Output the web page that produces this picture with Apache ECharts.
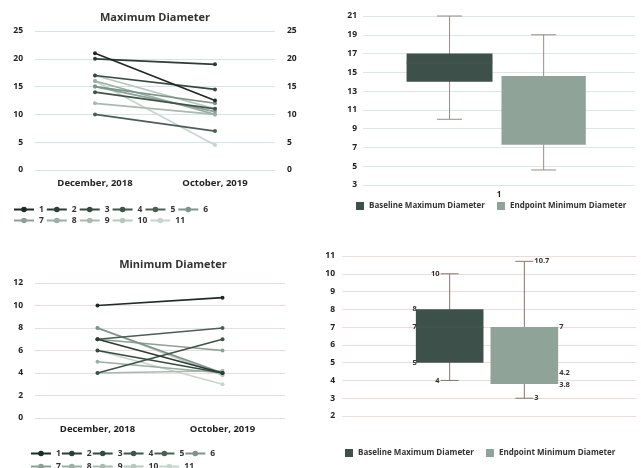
<!DOCTYPE html>
<html>
<head>
<meta charset="utf-8">
<script src="https://cdn.jsdelivr.net/npm/echarts@6/dist/echarts.min.js"></script>
<style>
html,body{margin:0;padding:0;background:#fff;}
#c{width:641px;height:468px;}
</style>
</head>
<body>
<div id="c"></div>
<script>
// ---- data ----
const lineCategories = ['December, 2018', 'October, 2019'];
const seriesNames = ['1','2','3','4','5','6','7','8','9','10','11'];
const maxBaseline = [21, 20, 17, 14, 10, 15, 15, 16, 12, 17, 16];
const maxEndpoint = [12.5, 19, 14.5, 11, 7, 12, 10.5, 10, 10, 11, 4.5];
const minBaseline = [10, 7, 6, 4, 7, 8, 7, 5, 4, 8, 6];
const minEndpoint = [10.7, 4, 4, 7, 8, 4, 6, 4, 4.2, 3.8, 3];
const boxNames = ['Baseline Maximum Diameter', 'Endpoint Minimum Diameter'];
const boxCategory = ['1'];
// [min, q1, median, q3, max]
const maxBoxBaseline = [10, 14, 16, 17, 21];
const maxBoxEndpoint = [4.6, 7.3, 11, 14.6, 19];
const minBoxBaseline = [4, 5, 7, 8, 10];
const minBoxEndpoint = [3, 3.8, 4.2, 7, 10.7];
const maxTicks = [3,5,7,9,11,13,15,17,19,21];

// ---- styles ----
const FONT = "'Open Sans', 'DejaVu Sans', sans-serif";
const palette = ['#1f2a26','#2d3c36','#364a41','#3f544a','#4a6055',
                 '#7c9489','#8ba197','#9aafa5','#a8bab2','#b8c8c1','#c8d5cf'];
const boxColors = ['#3d5049', '#8fa398'];
const chart = echarts.init(document.getElementById('c'), null, {renderer:'canvas'});

function lbl(size){ return {fontFamily:FONT, fontWeight:'bold', fontSize:size, color:'#222'}; }

function lineSeries(vals1, vals2, xi, yi){
  return seriesNames.map((n,i)=>({
    name:n, type:'line', xAxisIndex:xi, yAxisIndex:yi,
    data:[vals1[i], vals2[i]],
    symbol:'circle', symbolSize:4, showSymbol:true,
    lineStyle:{width:1.7, color:palette[i]},
    itemStyle:{color:palette[i]},
    emphasis:{disabled:true}, silent:true, z: 20-i
  }));
}

function boxRender(side, cfg){
  return function(params, api){
    const x0 = api.value(0);
    const v = [1,2,3,4,5].map(k=>api.value(k));
    const band = api.size([1,0])[0];
    const cx = api.coord([x0, v[0]])[0];
    const w = band*cfg.w, g = band*cfg.g;
    const left = (side<0 ? cx - g/2 - w : cx + g/2) + cfg.shift;
    const mid = left + w/2;
    const y = v.map(val=>api.coord([x0,val])[1]);
    const cap = cfg.cap;
    const wl = {stroke:cfg.whisker, lineWidth:1};
    const ch = [
      {type:'line', shape:{x1:mid,y1:y[0],x2:mid,y2:y[4]}, style:wl},
      {type:'line', shape:{x1:mid-cap/2,y1:y[0],x2:mid+cap/2,y2:y[0]}, style:wl},
      {type:'line', shape:{x1:mid-cap/2,y1:y[4],x2:mid+cap/2,y2:y[4]}, style:wl},
      {type:'rect', shape:{x:left,y:y[3],width:w,height:y[1]-y[3]}, style:{fill:cfg.color}},
      {type:'line', shape:{x1:left,y1:y[2],x2:left+w,y2:y[2]}, style:{stroke:cfg.medColor, lineWidth:1}}
    ];
    if (cfg.labels){
      const ts = (t,x,yy,al)=>({type:'text', style:{text:t, x:x, y:yy, align:al, verticalAlign:'middle',
        fontFamily:FONT, fontWeight:'bold', fontSize:7.5, fill:'#333'}});
      const fmt = n=>String(n);
      if (side<0){
        ch.push(ts(fmt(v[4]), mid-cap/2-1, y[4], 'right'));
        ch.push(ts(fmt(v[3]), left+1, y[3], 'right'));
        ch.push(ts(fmt(v[2]), left+1, y[2], 'right'));
        ch.push(ts(fmt(v[1]), left+1, y[1], 'right'));
        ch.push(ts(fmt(v[0]), mid-cap/2-1, y[0], 'right'));
      } else {
        ch.push(ts(fmt(v[4]), mid+cap/2+1, y[4], 'left'));
        ch.push(ts(fmt(v[3]), left+w+1, y[3], 'left'));
        ch.push(ts(fmt(v[2]), left+w+1, y[2]-4, 'left'));
        ch.push(ts(fmt(v[1]), left+w+1, y[1]+1, 'left'));
        ch.push(ts(fmt(v[0]), mid+cap/2+1, y[0], 'left'));
      }
    }
    return {type:'group', children:ch};
  };
}

function boxSeries(name, data, side, xi, yi, cfg){
  return {
    name:name, type:'custom', xAxisIndex:xi, yAxisIndex:yi,
    data:[[0].concat(data)],
    encode:{x:0, y:[1,2,3,4,5]},
    itemStyle:{color:cfg.color},
    renderItem: boxRender(side, cfg), silent:true
  };
}

const legendBase = (data, left, top, gap, textW)=>({
  data:data, left:left, top:top, orient:'horizontal', itemGap:gap,
  itemWidth:20, itemHeight:7, selectedMode:false, padding:0,
  textStyle:Object.assign(lbl(8.5), {width:textW, color:'#333'})
});

const boxLegend = (left, top)=>({
  data:boxNames, left:left, top:top, itemGap:12, itemWidth:8, itemHeight:8,
  icon:'rect', selectedMode:false, padding:0, textStyle:Object.assign(lbl(8),{color:'#333'})
});

const cfgTop1 = {w:0.316, g:0.033, shift:-2, cap:25, whisker:'#9a8c86', color:boxColors[0], medColor:'#465a52', labels:false};
const cfgTop2 = {w:0.31, g:0.033, shift:-2, cap:25, whisker:'#9a8c86', color:boxColors[1], medColor:'#93a69c', labels:false};
const cfgBot1 = {w:0.23, g:0.024, shift:-2, cap:18, whisker:'#8f726a', color:boxColors[0], medColor:'#465a52', labels:true};
const cfgBot2 = {w:0.23, g:0.024, shift:-2, cap:18, whisker:'#8f726a', color:boxColors[1], medColor:'#93a69c', labels:true};

const option = {
  animation:false,
  backgroundColor:'#ffffff',
  title:[
    {text:'Maximum Diameter', left:150, top:7, textAlign:'center', textStyle:Object.assign(lbl(11),{color:'#333'})},
    {text:'Minimum Diameter', left:168, top:254, textAlign:'center', textStyle:Object.assign(lbl(11),{color:'#333'})}
  ],
  legend:[
    legendBase(seriesNames.slice(0,6), 13, 205, 2, 20),
    legendBase(seriesNames.slice(6), 13, 216, 2, 20),
    legendBase(seriesNames.slice(0,6), 30, 449, 0, 17),
    legendBase(seriesNames.slice(6), 30, 462, 0, 17),
    boxLegend(356, 202),
    boxLegend(345, 449)
  ],
  grid:[
    {left:35, top:31, width:240, height:139},
    {left:363, top:16, width:272, height:169},
    {left:35, top:283, width:250, height:135},
    {left:342, top:256, width:294, height:160}
  ],
  xAxis:[
    {type:'category', gridIndex:0, data:lineCategories, boundaryGap:true,
     axisLine:{show:false}, axisTick:{show:false}, axisLabel:Object.assign(lbl(9.5),{margin:8})},
    {type:'category', gridIndex:1, data:boxCategory,
     axisLine:{show:false}, axisTick:{show:false}, axisLabel:Object.assign(lbl(8),{margin:6})},
    {type:'category', gridIndex:2, data:lineCategories, boundaryGap:true,
     axisLine:{show:false}, axisTick:{show:false}, axisLabel:Object.assign(lbl(9.5),{margin:6})},
    {type:'category', gridIndex:3, data:boxCategory,
     axisLine:{show:false}, axisTick:{show:false}, axisLabel:{show:false}}
  ],
  yAxis:[
    {type:'value', gridIndex:0, min:0, max:25, interval:5, position:'left',
     axisLine:{show:false}, axisTick:{show:false}, axisLabel:Object.assign(lbl(8.5),{margin:12}),
     splitLine:{lineStyle:{color:'#cfe5e6', width:1}}},
    {type:'value', gridIndex:0, min:0, max:25, interval:5, position:'right',
     axisLine:{show:false}, axisTick:{show:false}, axisLabel:Object.assign(lbl(8.5),{margin:12}),
     splitLine:{show:false}},
    {type:'value', gridIndex:1, min:3, max:21,
     axisLine:{show:false}, axisTick:{show:false, customValues:maxTicks},
     axisLabel:Object.assign(lbl(8.5),{margin:6, customValues:maxTicks}),
     splitLine:{lineStyle:{color:'#d9e8e5', width:1}}},
    {type:'value', gridIndex:2, min:0, max:12, interval:2,
     axisLine:{show:false}, axisTick:{show:false}, axisLabel:Object.assign(lbl(8.5),{margin:12}),
     splitLine:{lineStyle:{color:'#e8dedd', width:1}}},
    {type:'value', gridIndex:3, min:2, max:11, interval:1,
     axisLine:{show:false}, axisTick:{show:false}, axisLabel:Object.assign(lbl(8.5),{margin:7}),
     splitLine:{lineStyle:{color:'#ecdcda', width:1}}}
  ],
  series: [].concat(
    lineSeries(maxBaseline, maxEndpoint, 0, 0),
    lineSeries(minBaseline, minEndpoint, 2, 3),
    [
      boxSeries(boxNames[0], maxBoxBaseline, -1, 1, 2, cfgTop1),
      boxSeries(boxNames[1], maxBoxEndpoint, 1, 1, 2, cfgTop2),
      boxSeries(boxNames[0], minBoxBaseline, -1, 3, 4, cfgBot1),
      boxSeries(boxNames[1], minBoxEndpoint, 1, 3, 4, cfgBot2)
    ]
  )
};
chart.setOption(option);
</script>
</body>
</html>
